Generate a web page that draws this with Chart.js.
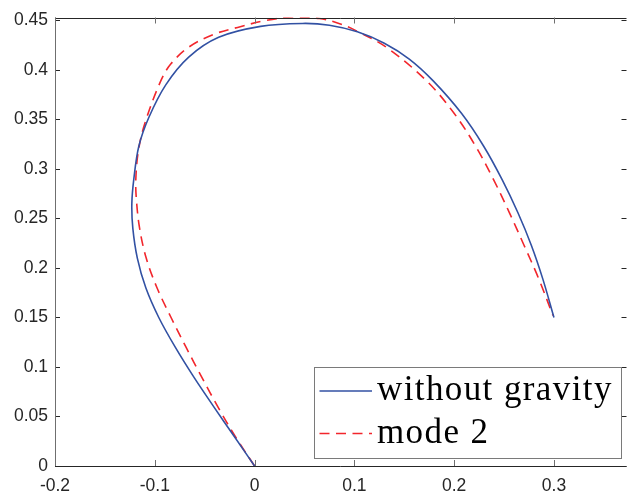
<!DOCTYPE html>
<html>
<head>
<meta charset="utf-8">
<script src="https://cdn.jsdelivr.net/npm/chart.js@4/dist/chart.umd.min.js"></script>
<style>
  html, body { margin: 0; padding: 0; background: #fff; }
  #wrap { width: 627px; height: 497px; }
</style>
</head>
<body>
<div id="wrap"><canvas id="c" width="627" height="497"></canvas></div>
<script>
// Trajectory without gravity
const freeX = [0, -0.0205, -0.041, -0.061, -0.0795, -0.096, -0.109, -0.1175, -0.122, -0.123, -0.121, -0.116, -0.106, -0.089, -0.066, -0.036, 0.006, 0.048, 0.075, 0.103, 0.130, 0.155, 0.179, 0.2075, 0.2296, 0.2482, 0.2638, 0.2773, 0.2888, 0.300];
const freeY = [0, 0.030, 0.060, 0.090, 0.120, 0.150, 0.180, 0.210, 0.240, 0.265, 0.290, 0.323, 0.352, 0.385, 0.413, 0.433, 0.444, 0.447, 0.4452, 0.4385, 0.427, 0.411, 0.389, 0.356, 0.323, 0.289, 0.256, 0.223, 0.189, 0.150];

// Trajectory for mode 2
const modeX = [0, -0.0195, -0.0369, -0.0531, -0.0687, -0.0837, -0.0978, -0.1086, -0.1152, -0.1185, -0.119, -0.1165, -0.110, -0.094, -0.084, -0.066, -0.041, -0.017, 0.009, 0.038, 0.065, 0.086, 0.103, 0.1319, 0.1724, 0.2001, 0.2215, 0.2396, 0.2553, 0.2700, 0.2848, 0.299];
const modeY = [0, 0.030, 0.060, 0.090, 0.120, 0.150, 0.180, 0.210, 0.240, 0.270, 0.290, 0.318, 0.346, 0.389, 0.406, 0.423, 0.436, 0.443, 0.4495, 0.4535, 0.452, 0.4465, 0.439, 0.423, 0.389, 0.356, 0.323, 0.289, 0.256, 0.223, 0.189, 0.152];

const xTicks = [-0.2, -0.1, 0, 0.1, 0.2, 0.3];
const xTickLabels = ['-0.2', '-0.1', '0', '0.1', '0.2', '0.3'];
const yTicks = [0, 0.05, 0.1, 0.15, 0.2, 0.25, 0.3, 0.35, 0.4, 0.45];
const yTickLabels = ['0', '0.05', '0.1', '0.15', '0.2', '0.25', '0.3', '0.35', '0.4', '0.45'];

const seriesNames = ['without gravity', 'mode 2'];

const toPoints = (xs, ys) => xs.map((x, i) => ({ x: x, y: ys[i] }));

const BLUE = '#3251a3';
const RED = '#f2262c';
const AXIS_DARK = '#262626';
const AXIS_SOFT = '#6f6f6f';

// Box around the axes with inward ticks on all four sides
const framePlugin = {
  id: 'frame',
  afterDatasetsDraw(chart) {
    const { ctx, chartArea: a, scales } = chart;
    const tl = 6;
    ctx.save();
    ctx.lineWidth = 1;
    ctx.strokeStyle = AXIS_DARK;
    ctx.beginPath();
    ctx.moveTo(a.left, Math.round(a.top) + 0.5); ctx.lineTo(a.right, Math.round(a.top) + 0.5);
    ctx.moveTo(a.left, Math.round(a.bottom) + 0.5); ctx.lineTo(a.right, Math.round(a.bottom) + 0.5);
    ctx.stroke();
    ctx.beginPath();
    yTicks.forEach(v => {
      const y = Math.round(scales.y.getPixelForValue(v)) + 0.5;
      ctx.moveTo(a.left, y); ctx.lineTo(a.left + tl - 1, y);
      ctx.moveTo(a.right, y); ctx.lineTo(a.right - tl + 1, y);
    });
    ctx.stroke();
    ctx.strokeStyle = AXIS_SOFT;
    ctx.beginPath();
    ctx.moveTo(Math.round(a.left) + 0.5, a.top); ctx.lineTo(Math.round(a.left) + 0.5, a.bottom);
    ctx.moveTo(Math.round(a.right) + 0.5, a.top); ctx.lineTo(Math.round(a.right) + 0.5, a.bottom);
    xTicks.forEach(v => {
      const x = Math.round(scales.x.getPixelForValue(v)) + 0.5;
      ctx.moveTo(x, a.bottom); ctx.lineTo(x, a.bottom - tl);
      ctx.moveTo(x, a.top); ctx.lineTo(x, a.top + tl);
    });
    ctx.stroke();
    ctx.restore();
  }
};

// Boxed legend in the lower right of the axes
const legendPlugin = {
  id: 'boxLegend',
  afterDraw(chart) {
    const { ctx, chartArea: a, data } = chart;
    const boxW = 307, boxH = 91;
    const bx = a.right - 5.5 - boxW;
    const by = a.bottom - 8.5 - boxH;
    ctx.save();
    ctx.fillStyle = '#ffffff';
    ctx.fillRect(bx, by, boxW, boxH);
    ctx.strokeStyle = '#7a7a7a';
    ctx.lineWidth = 1;
    ctx.strokeRect(Math.round(bx) + 0.5, Math.round(by) + 0.5, boxW, boxH);
    const rows = [by + 24.5, by + 67];
    data.datasets.forEach((ds, i) => {
      const y = rows[i];
      ctx.strokeStyle = ds.borderColor;
      ctx.lineWidth = ds.borderWidth;
      ctx.setLineDash(ds.borderDash || []);
      ctx.beginPath();
      ctx.moveTo(bx + 5.5, y); ctx.lineTo(bx + 58, y);
      ctx.stroke();
      ctx.setLineDash([]);
      ctx.fillStyle = '#000000';
      ctx.font = '35px "Liberation Serif", "Times New Roman", serif';
      if ('letterSpacing' in ctx) ctx.letterSpacing = '1.4px';
      ctx.textBaseline = 'alphabetic';
      ctx.textAlign = 'left';
      ctx.fillText(ds.label, bx + 63, y + 9);
    });
    ctx.restore();
  }
};

new Chart(document.getElementById('c'), {
  type: 'scatter',
  data: {
    datasets: [
      {
        label: seriesNames[0],
        data: toPoints(freeX, freeY),
        showLine: true,
        borderColor: BLUE,
        borderWidth: 1.6,
        tension: 0.35,
        pointRadius: 0,
        fill: false
      },
      {
        label: seriesNames[1],
        data: toPoints(modeX, modeY),
        showLine: true,
        borderColor: RED,
        borderWidth: 1.6,
        borderDash: [10, 6.5],
        tension: 0.35,
        pointRadius: 0,
        fill: false
      }
    ]
  },
  options: {
    responsive: false,
    animation: false,
    layout: { padding: { top: 13.5, right: 0.5, left: 0, bottom: 0 } },
    plugins: {
      legend: { display: false },
      tooltip: { enabled: false }
    },
    scales: {
      x: {
        type: 'linear',
        min: -0.2,
        max: 0.3727,
        grid: { display: false, drawTicks: false },
        border: { display: false },
        afterBuildTicks(scale) { scale.ticks = xTicks.map(v => ({ value: v })); },
        afterFit(scale) { scale.height = 31; },
        ticks: {
          padding: 10,
          color: AXIS_DARK,
          font: { family: '"Liberation Sans", Arial, sans-serif', size: 17.5 },
          callback: (v) => xTickLabels[xTicks.indexOf(v)],
          maxRotation: 0
        }
      },
      y: {
        type: 'linear',
        min: 0,
        max: 0.453,
        grid: { display: false, drawTicks: false },
        border: { display: false },
        afterBuildTicks(scale) { scale.ticks = yTicks.map(v => ({ value: v })); },
        afterFit(scale) { scale.width = 55; },
        ticks: {
          padding: 7,
          color: AXIS_DARK,
          font: { family: '"Liberation Sans", Arial, sans-serif', size: 17.5 },
          callback: (v) => yTickLabels[yTicks.indexOf(v)]
        }
      }
    }
  },
  plugins: [framePlugin, legendPlugin]
});
</script>
</body>
</html>
